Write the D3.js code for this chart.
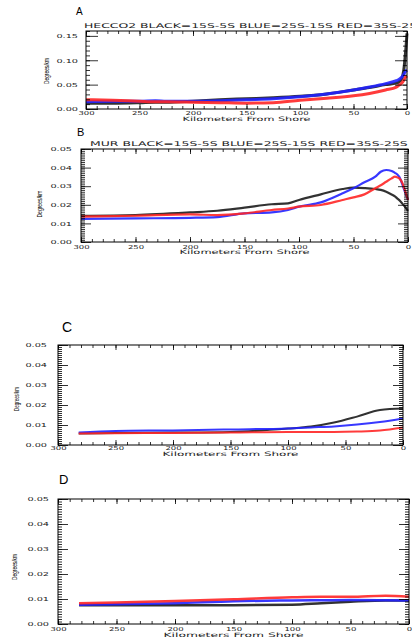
<!DOCTYPE html>
<html>
<head>
<meta charset="utf-8">
<script src="https://cdn.jsdelivr.net/npm/d3@7"></script>
<style>
  body { margin: 0; padding: 0; background: #fff; }
  svg { display: block; }
</style>
</head>
<body>
<svg id="chart" width="412" height="638"></svg>
<script>
// km from shore
var kmA = [300, 275, 250, 235, 225, 200, 175, 150, 125, 100, 75, 50, 35, 20, 10, 8, 5, 3, 2, 1, 0];
var blackA = [0.012, 0.012, 0.013, 0.014, 0.014, 0.016, 0.019, 0.021, 0.023, 0.026, 0.031, 0.039, 0.044, 0.050, 0.053, 0.055, 0.062, 0.080, 0.100, 0.125, 0.155];
var blueA  = [0.015, 0.016, 0.016, 0.017, 0.016, 0.016, 0.017, 0.019, 0.021, 0.025, 0.031, 0.039, 0.045, 0.052, 0.058, 0.060, 0.065, 0.071, 0.075, 0.078, 0.080];
var redA   = [0.019, 0.018, 0.016, 0.015, 0.015, 0.014, 0.013, 0.012, 0.013, 0.018, 0.022, 0.027, 0.032, 0.039, 0.045, 0.048, 0.053, 0.059, 0.063, 0.066, 0.068];

var kmB = [300, 250, 200, 175, 150, 125, 110, 100, 80, 60, 50, 40, 30, 25, 20, 15, 12, 10, 8, 5, 4, 0];
var blackB = [0.0141, 0.0145, 0.0159, 0.0168, 0.0185, 0.0203, 0.0208, 0.0226, 0.0256, 0.0285, 0.0292, 0.0290, 0.0285, 0.0280, 0.0270, 0.0255, 0.0245, 0.0235, 0.0225, 0.0205, 0.0198, 0.0167];
var blueB  = [0.0124, 0.0127, 0.0130, 0.0134, 0.0154, 0.0159, 0.0172, 0.0190, 0.0213, 0.0262, 0.0289, 0.0321, 0.0351, 0.0378, 0.0387, 0.0382, 0.0372, 0.0364, 0.0350, 0.0307, 0.0290, 0.0226];
var redB   = [0.0136, 0.0141, 0.0148, 0.0145, 0.0154, 0.0172, 0.0180, 0.0190, 0.0199, 0.0226, 0.0240, 0.0256, 0.0289, 0.0305, 0.0324, 0.0342, 0.0351, 0.0348, 0.0342, 0.0315, 0.0298, 0.0226];

var kmC = [282, 250, 200, 150, 100, 80, 60, 40, 20, 0];
var blackC = [0.0058, 0.0060, 0.0062, 0.0065, 0.0082, 0.0092, 0.0112, 0.0142, 0.0175, 0.0182];
var blueC  = [0.0063, 0.0070, 0.0073, 0.0078, 0.0083, 0.0088, 0.0093, 0.0102, 0.0115, 0.0133];
var redC   = [0.0057, 0.0059, 0.0060, 0.0062, 0.0065, 0.0065, 0.0065, 0.0067, 0.0072, 0.0087];

var kmD = [282, 250, 200, 150, 100, 75, 50, 20, 0];
var blackD = [0.0075, 0.0075, 0.0075, 0.0075, 0.0077, 0.0083, 0.0089, 0.0094, 0.0094];
var blueD  = [0.0077, 0.0079, 0.0083, 0.0091, 0.0094, 0.0095, 0.0096, 0.0095, 0.0094];
var redD   = [0.0083, 0.0086, 0.0092, 0.0099, 0.0107, 0.0109, 0.0109, 0.0113, 0.0109];

var xTicks = [300, 250, 200, 150, 100, 50, 0];

var svg = d3.select('#chart');
var tickFont = 'DejaVu Sans, sans-serif';
var charW = 5.4; // width per character of the wide plot font

// wide, flat lettering like the plotting package's vector font
function wideText(sel, size, len) {
  sel.attr('font-family', tickFont).attr('font-size', size)
    .attr('fill', '#222')
    .attr('lengthAdjust', 'spacingAndGlyphs')
    .attr('textLength', len);
}

function drawPanel(p) {
  var x = d3.scaleLinear().domain([300, 0]).range([p.x0, p.x1]);
  var y = d3.scaleLinear().domain([0, p.ymax]).range([p.y1, p.y0]);
  var g = svg.append('g');

  // panel letter
  g.append('text')
    .attr('x', p.letterX).attr('y', p.letterY)
    .attr('font-family', 'Liberation Sans, Arial, sans-serif')
    .attr('font-size', p.letterSize)
    .text(p.letter);

  if (p.title) {
    g.append('text')
      .attr('x', p.titleX).attr('y', p.titleY)
      .text(p.title)
      .call(wideText, 6.5, p.title.length * 7.75);
  }

  // lines first, axes on top
  var line = d3.line()
    .x(function(d) { return x(d[0]); })
    .y(function(d) { return y(d[1]); })
    .curve(d3.curveMonotoneX);

  p.series.forEach(function(s) {
    g.append('path')
      .datum(d3.zip(p.km, s.values))
      .attr('d', line)
      .attr('fill', 'none')
      .attr('stroke', s.color)
      .attr('stroke-width', p.lw)
      .attr('stroke-linejoin', 'round')
      .attr('stroke-opacity', 0.9);
  });

  // frame
  g.append('rect')
    .attr('x', p.x0).attr('y', p.y0)
    .attr('width', p.x1 - p.x0).attr('height', p.y1 - p.y0)
    .attr('fill', 'none').attr('stroke', '#000').attr('stroke-width', 1);

  var yMinor = d3.range(0, p.ymax + 1e-9, p.yMinorStep);
  var yMajor = d3.range(0, p.ymax + 1e-9, p.yMajorStep);
  var xMinor = d3.range(0, 301, 10);

  function addAxis(axis, tx, ty, labels) {
    var a = g.append('g').attr('transform', 'translate(' + tx + ',' + ty + ')').call(axis);
    a.select('.domain').remove();
    a.selectAll('line').attr('stroke', '#000').attr('stroke-width', 0.8);
    if (!labels) a.selectAll('text').remove();
    return a;
  }

  // y minor + major, left and right, pointing inward
  addAxis(d3.axisLeft(y).tickValues(yMinor).tickSize(-4).tickFormat(''), p.x0, 0, false);
  addAxis(d3.axisRight(y).tickValues(yMinor).tickSize(-4).tickFormat(''), p.x1, 0, false);
  addAxis(d3.axisRight(y).tickValues(yMajor).tickSize(-p.yMajorLen).tickFormat(''), p.x1, 0, false);
  var yl = addAxis(d3.axisLeft(y).tickValues(yMajor).tickSize(-p.yMajorLen)
    .tickPadding(p.yPad).tickFormat(d3.format('.2f')), p.x0, 0, true);
  yl.selectAll('text').each(function() {
    d3.select(this).call(wideText, 5.5, this.textContent.length * charW);
  });

  // x minor + major, bottom and top
  addAxis(d3.axisBottom(x).tickValues(xMinor).tickSize(-3).tickFormat(''), 0, p.y1, false);
  addAxis(d3.axisTop(x).tickValues(xMinor).tickSize(-3).tickFormat(''), 0, p.y0, false);
  addAxis(d3.axisTop(x).tickValues(xTicks).tickSize(-5).tickFormat(''), 0, p.y0, false);
  var xl = addAxis(d3.axisBottom(x).tickValues(xTicks).tickSize(-5)
    .tickFormat(d3.format('d')), 0, p.y1, true);
  xl.selectAll('text').each(function() {
    d3.select(this).call(wideText, 5.5, this.textContent.length * charW);
  })
    .attr('dy', null)
    .attr('y', p.xTickBase - p.y1);

  // axis titles
  g.append('text')
    .attr('x', (p.x0 + p.x1) / 2).attr('y', p.xLabelY)
    .attr('text-anchor', 'middle')
    .text('Kilometers From Shore')
    .call(wideText, 6, p.xLabelLen);

  g.append('text')
    .attr('transform', 'translate(' + p.yLabelX + ',' + p.yLabelY + ') rotate(-90)')
    .attr('text-anchor', 'middle')
    .attr('font-family', 'Liberation Sans, Arial, sans-serif').attr('font-size', 8)
    .attr('textLength', p.yLabelLen).attr('lengthAdjust', 'spacingAndGlyphs')
    .text('Degrees/km');
}

var colors = { black: '#1c1c1c', blue: '#2222ff', red: '#ff2626' };

drawPanel({
  letter: 'A', letterX: 76, letterY: 15, letterSize: 10,
  title: 'HECCO2 BLACK=15S-5S BLUE=25S-15S RED=35S-25S', titleX: 84, titleY: 27.5,
  x0: 86, x1: 407, y0: 31, y1: 109, ymax: 0.16,
  yMajorStep: 0.05, yMinorStep: 0.01, yMajorLen: 12, yPad: 8, xTickBase: 114.5,
  xLabelY: 121, xLabelLen: 128, yLabelX: 49, yLabelY: 71, yLabelLen: 26,
  km: kmA, lw: 3,
  series: [
    { color: colors.black, values: blackA },
    { color: colors.blue, values: blueA },
    { color: colors.red, values: redA }
  ]
});

drawPanel({
  letter: 'B', letterX: 77, letterY: 136, letterSize: 11,
  title: 'MUR BLACK=15S-5S BLUE=25S-15S RED=35S-25S', titleX: 90, titleY: 146,
  x0: 81, x1: 408, y0: 149, y1: 242, ymax: 0.05,
  yMajorStep: 0.01, yMinorStep: 0.001, yMajorLen: 10, yPad: 9, xTickBase: 248.5,
  xLabelY: 254, xLabelLen: 130, yLabelX: 42, yLabelY: 204, yLabelLen: 27,
  km: kmB, lw: 2.2,
  series: [
    { color: colors.black, values: blackB },
    { color: colors.blue, values: blueB },
    { color: colors.red, values: redB }
  ]
});

drawPanel({
  letter: 'C', letterX: 62, letterY: 332, letterSize: 14,
  x0: 58, x1: 403, y0: 345, y1: 445, ymax: 0.05,
  yMajorStep: 0.01, yMinorStep: 0.001, yMajorLen: 10, yPad: 11, xTickBase: 450,
  xLabelY: 456, xLabelLen: 136, yLabelX: 19, yLabelY: 399, yLabelLen: 24,
  km: kmC, lw: 2,
  series: [
    { color: colors.black, values: blackC },
    { color: colors.blue, values: blueC },
    { color: colors.red, values: redC }
  ]
});

drawPanel({
  letter: 'D', letterX: 59, letterY: 484, letterSize: 13,
  x0: 58, x1: 409, y0: 499, y1: 624, ymax: 0.05,
  yMajorStep: 0.01, yMinorStep: 0.001, yMajorLen: 10, yPad: 9, xTickBase: 631,
  xLabelY: 636.5, xLabelLen: 140, yLabelX: 17, yLabelY: 567, yLabelLen: 26,
  km: kmD, lw: 2.5,
  series: [
    { color: colors.black, values: blackD },
    { color: colors.blue, values: blueD },
    { color: colors.red, values: redD }
  ]
});
</script>
</body>
</html>
